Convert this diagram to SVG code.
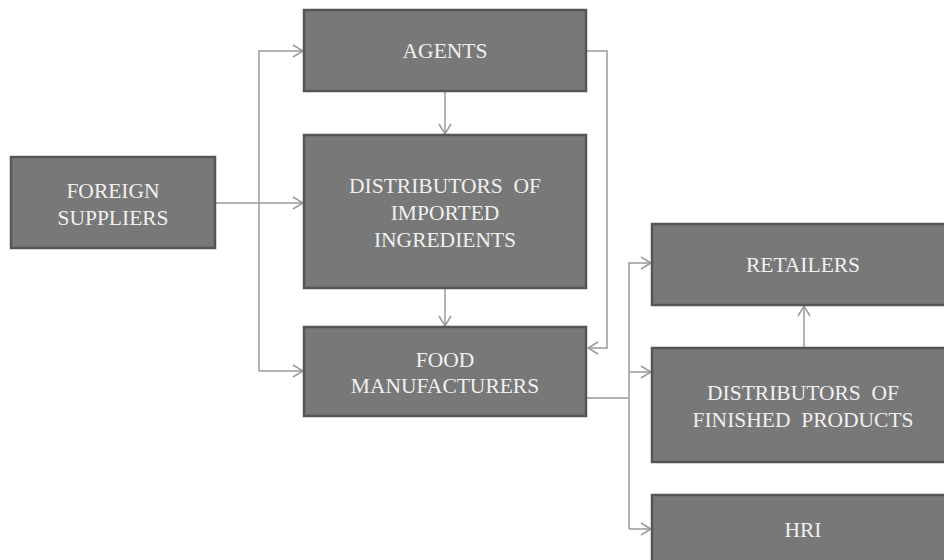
<svg xmlns="http://www.w3.org/2000/svg" width="944" height="560" viewBox="0 0 944 560">
<defs>
<style>
.box{fill:#787878;stroke:#555555;stroke-width:2.5}
.lbl{font-family:'Liberation Serif','DejaVu Serif',serif;font-size:21.5px;fill:#f0f0f0;text-anchor:middle}
.con{fill:none;stroke:#9a9a9a;stroke-width:1.5}
</style>
<marker id="arr" viewBox="0 0 12 14" refX="11" refY="7" markerWidth="12" markerHeight="14" markerUnits="userSpaceOnUse" orient="auto">
<path d="M1,1 L11,7 L1,13" fill="none" stroke="#9a9a9a" stroke-width="1.5"/>
</marker>
</defs>
<rect width="944" height="560" fill="#ffffff"/>
<g id="connectors">
<path class="con" d="M215,203 L303,203" marker-end="url(#arr)"/>
<path class="con" d="M259,371 L259,51 L303,51" marker-end="url(#arr)"/>
<path class="con" d="M259,371 L303,371" marker-end="url(#arr)"/>
<path class="con" d="M445,91 L445,134" marker-end="url(#arr)"/>
<path class="con" d="M445,288 L445,326" marker-end="url(#arr)"/>
<path class="con" d="M587,51 L607,51 L607,348 L588,348" marker-end="url(#arr)"/>
<path class="con" d="M587,398 L629,398"/>
<path class="con" d="M629,529 L629,263 L651,263" marker-end="url(#arr)"/>
<path class="con" d="M629,372 L651,372" marker-end="url(#arr)"/>
<path class="con" d="M629,529 L651,529" marker-end="url(#arr)"/>
<path class="con" d="M804,348 L804,306" marker-end="url(#arr)"/>
</g>
<g id="foreign-suppliers">
<rect class="box" x="11" y="157" width="204" height="91"/>
<text class="lbl" font-family="Liberation Serif, serif" x="113" y="198">FOREIGN</text>
<text class="lbl" font-family="Liberation Serif, serif" x="113" y="225">SUPPLIERS</text>
</g>
<g id="agents">
<rect class="box" x="304" y="10" width="282" height="81"/>
<text class="lbl" x="445" y="58">AGENTS</text>
</g>
<g id="distributors-imported">
<rect class="box" x="304" y="135" width="282" height="153"/>
<text class="lbl" x="445" y="193" xml:space="preserve">DISTRIBUTORS  OF</text>
<text class="lbl" x="445" y="220">IMPORTED</text>
<text class="lbl" x="445" y="247">INGREDIENTS</text>
</g>
<g id="food-manufacturers">
<rect class="box" x="304" y="327" width="282" height="89"/>
<text class="lbl" x="445" y="367">FOOD</text>
<text class="lbl" x="445" y="393">MANUFACTURERS</text>
</g>
<g id="retailers">
<rect class="box" x="652" y="224" width="304" height="81"/>
<text class="lbl" x="803" y="272">RETAILERS</text>
</g>
<g id="distributors-finished">
<rect class="box" x="652" y="348" width="304" height="114"/>
<text class="lbl" x="803" y="400" xml:space="preserve">DISTRIBUTORS  OF</text>
<text class="lbl" x="803" y="427" xml:space="preserve">FINISHED  PRODUCTS</text>
</g>
<g id="hri">
<rect class="box" x="652" y="495" width="304" height="80"/>
<text class="lbl" x="803" y="537">HRI</text>
</g>
</svg>
